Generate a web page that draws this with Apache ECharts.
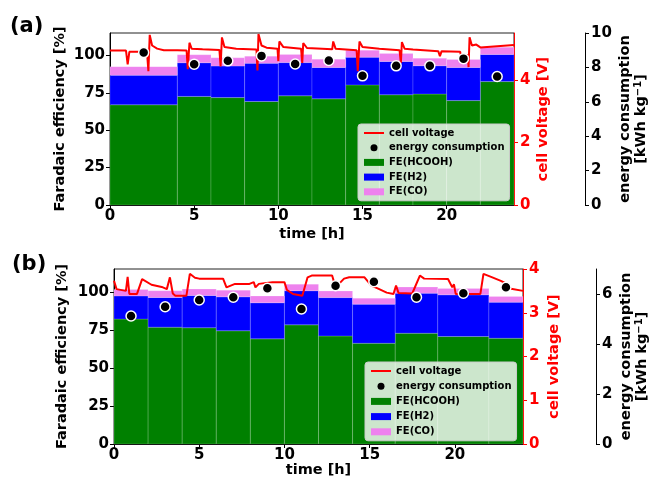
<!DOCTYPE html>
<html>
<head>
<meta charset="utf-8">
<script src="https://cdn.jsdelivr.net/npm/echarts@6/dist/echarts.min.js"></script>
<style>
  html, body { margin: 0; padding: 0; background: #fff; }
  #main { width: 649px; height: 482px; }
</style>
</head>
<body>
<div id="main"></div>
<script>
// ---- panel (a) ----
var edgesA = [0, 4, 6, 8, 10, 12, 14, 16, 18, 20, 22, 24];
var hcoohA = [67.0, 72.6, 71.8, 69.2, 73.0, 71.0, 80.3, 73.7, 74.2, 69.8, 82.5];
var h2A    = [19.7, 22.5, 21.1, 25.5, 22.2, 21.0, 18.5, 22.3, 18.9, 22.2, 18.2];
var coA    = [5.8, 5.3, 5.5, 4.8, 5.5, 5.5, 4.7, 5.3, 5.0, 5.3, 4.8];
var energyTimeA = [2, 5, 7, 9, 11, 13, 15, 17, 19, 21, 23];
var energyA     = [8.86, 8.19, 8.38, 8.67, 8.20, 8.40, 7.51, 8.09, 8.09, 8.51, 7.47];
var voltageA = [
    [0, 4.94], [0.95, 4.94], [1.05, 4.5], [1.15, 4.9], [1.9, 4.9], [2.2, 4.88], [2.28, 4.28], [2.36, 5.44],
    [2.5, 5.1], [2.8, 5.0], [3.2, 4.95], [4.0, 4.95], [4.55, 4.94], [4.62, 4.34], [4.72, 5.19], [4.85, 5.0],
    [5.5, 4.98], [6.5, 4.96], [6.57, 4.43], [6.65, 5.36], [6.8, 5.05], [7.5, 5.0], [8.7, 4.97], [8.76, 4.3],
    [8.82, 5.47], [9.0, 5.1], [9.3, 5.03], [9.95, 5.0], [10.0, 4.6], [10.06, 5.23], [10.3, 5.05], [11.35, 5.0],
    [11.42, 4.54], [11.48, 5.18], [11.7, 5.02], [13.2, 4.98], [13.26, 5.23], [13.4, 5.0], [14.65, 4.95],
    [14.72, 4.28], [14.82, 5.23], [15.0, 5.05], [16.0, 5.0], [17.2, 4.95], [17.28, 4.54], [17.34, 5.21],
    [17.5, 5.0], [18.0, 4.97], [19.5, 4.92], [19.6, 4.76], [19.7, 4.92], [20.8, 4.9], [20.85, 4.76],
    [21.25, 4.8], [21.3, 4.41], [21.36, 5.36], [21.5, 5.1], [21.76, 5.13], [22.0, 5.04], [23.0, 5.08], [24, 5.12]
];

// ---- panel (b) ----
var edgesB = [0, 2, 4, 6, 8, 10, 12, 14, 16.5, 19, 22, 24];
var hcoohB = [82.1, 76.8, 76.4, 74.4, 69.1, 78.3, 71.0, 66.2, 72.8, 70.6, 69.5];
var h2B    = [15.2, 19.5, 21.2, 22.3, 23.7, 22.4, 25.2, 25.7, 26.3, 27.4, 23.7];
var coB    = [4.3, 4.4, 4.2, 4.4, 4.4, 4.3, 4.3, 3.9, 4.0, 4.2, 3.7];
var energyTimeB = [1, 3, 5, 7, 9, 11, 13, 15.25, 17.75, 20.5, 23];
var energyB     = [5.12, 5.49, 5.76, 5.87, 6.23, 5.40, 6.33, 6.49, 5.87, 6.03, 6.27];
var voltageB = [
    [0, 3.73], [0.15, 3.54], [0.7, 3.5], [0.8, 3.82], [0.9, 3.43], [1.35, 3.43], [1.65, 3.77], [2.2, 3.64],
    [2.8, 3.59], [3.1, 3.54], [3.28, 3.81], [3.45, 3.44], [3.6, 3.39], [4.25, 3.39], [4.45, 3.89], [4.75, 3.8],
    [5.0, 3.78], [6.4, 3.78], [6.6, 3.58], [7.1, 3.66], [7.95, 3.66], [8.2, 3.7], [8.3, 3.58], [8.5, 3.66],
    [9.3, 3.7], [10.0, 3.7], [10.15, 3.52], [10.5, 3.43], [11.05, 3.39], [11.36, 3.81], [11.6, 3.85],
    [12.8, 3.85], [13.0, 3.58], [13.5, 3.78], [13.8, 3.81], [14.7, 3.81], [15.1, 3.62], [15.5, 3.55],
    [16.0, 3.46], [16.4, 3.43], [16.55, 3.62], [16.7, 3.45], [17.5, 3.44], [17.95, 3.85], [18.2, 3.78],
    [19.6, 3.77], [19.85, 3.58], [19.95, 3.65], [20.05, 3.43], [21.5, 3.43], [21.68, 3.89], [22.2, 3.81],
    [22.7, 3.73], [23.0, 3.67], [23.3, 3.55], [24, 3.5]
];

var GREEN = '#008000', BLUE = '#0000ff', VIOLET = '#ee82ee', RED = '#ff0000';
var FONT = 'DejaVu Sans';

// stacked blocks: [start, end, bottom, top]
function blocks(edges, base, vals) {
    var out = [];
    for (var i = 0; i < vals.length; i++) {
        out.push([edges[i], edges[i + 1], base[i], base[i] + vals[i]]);
    }
    return out;
}
function addArr(a, b) {
    return a.map(function (v, i) { return v + b[i]; });
}
function zeros(n) {
    var z = [];
    for (var i = 0; i < n; i++) z.push(0);
    return z;
}
function renderBlock(params, api) {
    var p0 = api.coord([api.value(0), api.value(3)]);
    var p1 = api.coord([api.value(1), api.value(2)]);
    return {
        type: 'rect',
        shape: { x: p0[0], y: p0[1], width: p1[0] - p0[0], height: p1[1] - p0[1] },
        style: { fill: api.visual('color'), stroke: 'rgba(255,255,255,0.22)', lineWidth: 0.8 }
    };
}

function panelSeries(gi, edges, hcooh, h2, co, eT, eV, volt) {
    var b0 = zeros(hcooh.length);
    var b1 = addArr(b0, hcooh);
    var b2 = addArr(b1, h2);
    var yi = gi * 3;
    var mk = function (name, color, data) {
        return {
            name: name, type: 'custom', xAxisIndex: gi, yAxisIndex: yi,
            renderItem: renderBlock, itemStyle: { color: color },
            encode: { x: [0, 1], y: [2, 3] }, data: data, z: 1, silent: true
        };
    };
    return [
        mk('FE(HCOOH)', GREEN, blocks(edges, b0, hcooh)),
        mk('FE(H2)', BLUE, blocks(edges, b1, h2)),
        mk('FE(CO)', VIOLET, blocks(edges, b2, co)),
        {
            name: 'cell voltage', type: 'line', xAxisIndex: gi, yAxisIndex: yi + 1,
            data: volt, showSymbol: false, symbol: 'none',
            lineStyle: { color: RED, width: 2 }, itemStyle: { color: RED }, z: 3
        },
        {
            name: 'energy consumption', type: 'scatter', xAxisIndex: gi, yAxisIndex: yi + 2,
            data: eT.map(function (t, i) { return [t, eV[i]]; }),
            symbolSize: 10,
            itemStyle: { color: '#000', borderColor: '#fff', borderWidth: 1.5, opacity: 1 },
            z: 4
        }
    ];
}

var tickLbl = { color: '#000', fontFamily: FONT, fontWeight: 'bold', fontSize: 15 };
var nameStyle = { color: '#000', fontFamily: FONT, fontWeight: 'bold', fontSize: 14.5 };
var blackLine = { show: true, lineStyle: { color: '#000', width: 1 } };
var blackTick = { show: true, length: 4, lineStyle: { color: '#000' } };

function xAx(gi, gap) {
    return {
        type: 'value', gridIndex: gi, min: 0, max: 24, interval: 5,
        name: 'time [h]', nameLocation: 'middle', nameGap: gap, nameTextStyle: nameStyle,
        nameMoveOverlap: false,
        axisLine: blackLine, axisTick: blackTick, splitLine: { show: false },
        axisLabel: Object.assign({ margin: 4, showMaxLabel: false }, tickLbl)
    };
}
function feAx(gi, gap) {
    return {
        type: 'value', gridIndex: gi, min: 0, max: 115, interval: 25, position: 'left',
        name: 'Faradaic efficiency [%]', nameLocation: 'middle', nameGap: gap, nameTextStyle: nameStyle,
        nameMoveOverlap: false,
        axisLine: blackLine, axisTick: blackTick, splitLine: { show: false },
        axisLabel: Object.assign({ margin: 5, showMaxLabel: false }, tickLbl)
    };
}
function vAx(gi, max, interval, gap) {
    return {
        type: 'value', gridIndex: gi, min: 0, max: max, interval: interval, position: 'right',
        name: 'cell voltage [V]', nameLocation: 'middle', nameGap: gap,
        nameMoveOverlap: false,
        nameTextStyle: Object.assign({}, nameStyle, { color: RED }),
        axisLine: { show: true, lineStyle: { color: RED, width: 1 } },
        axisTick: { show: true, length: 4, lineStyle: { color: RED } },
        splitLine: { show: false },
        axisLabel: Object.assign({}, tickLbl, { color: RED, margin: 6, showMaxLabel: max % interval === 0 })
    };
}
function eAx(gi, max, offset, gap) {
    return {
        type: 'value', gridIndex: gi, min: 0, max: max, interval: 2, position: 'right', offset: offset,
        name: 'energy consumption\n[kWh kg{s|\u22121}]', nameLocation: 'middle', nameGap: gap,
        nameMoveOverlap: false,
        nameTextStyle: Object.assign({}, nameStyle, {
            lineHeight: 16,
            rich: { s: { fontFamily: FONT, fontWeight: 'bold', fontSize: 10, verticalAlign: 'top', lineHeight: 16 } }
        }),
        axisLine: blackLine, axisTick: blackTick, splitLine: { show: false },
        axisLabel: Object.assign({ margin: 6, showMaxLabel: max % 2 === 0 }, tickLbl)
    };
}

function legendAt(left, top, gap) {
    return {
        left: left, top: top, orient: 'vertical',
        itemWidth: 20, itemHeight: 7, itemGap: gap,
        padding: [3, 5, 3, 5],
        backgroundColor: 'rgba(255,255,255,0.8)', borderColor: '#cccccc', borderWidth: 1, borderRadius: 3,
        textStyle: { fontFamily: FONT, fontWeight: 'bold', fontSize: 10, color: '#000', lineHeight: 12 },
        selectedMode: false,
        data: [
            { name: 'cell voltage', itemStyle: { color: 'rgba(0,0,0,0)', borderColor: 'rgba(0,0,0,0)', borderWidth: 0 } },
            { name: 'energy consumption', icon: 'circle', itemStyle: { borderWidth: 0 } },
            { name: 'FE(HCOOH)', icon: 'rect' },
            { name: 'FE(H2)', icon: 'rect' },
            { name: 'FE(CO)', icon: 'rect' }
        ]
    };
}

var gridBase = { show: true, borderColor: '#222', borderWidth: 1, backgroundColor: 'transparent', outerBoundsMode: 'none', containLabel: false };

var chart = echarts.init(document.getElementById('main'));
chart.setOption({
    animation: false,
    backgroundColor: '#fff',
    textStyle: { fontFamily: FONT },
    grid: [
        Object.assign({ left: 110, top: 33, width: 404, height: 172 }, gridBase),
        Object.assign({ left: 114, top: 269, width: 409, height: 175 }, gridBase)
    ],
    xAxis: [xAx(0, 22), xAx(1, 19)],
    yAxis: [
        feAx(0, 42), vAx(0, 5.5, 2, 22), eAx(0, 10, 71, 32),
        feAx(1, 44), vAx(1, 4, 1, 24), eAx(1, 7, 73, 22)
    ],
    legend: [legendAt(358, 124, 2.7), legendAt(365, 362, 3.2)],
    graphic: [
        { type: 'text', left: 10, top: 16, style: { text: '(a)', font: 'bold 21px "DejaVu Sans"', fill: '#000' } },
        { type: 'text', left: 12, top: 254, style: { text: '(b)', font: 'bold 21px "DejaVu Sans"', fill: '#000' } }
    ],
    series: []
        .concat(panelSeries(0, edgesA, hcoohA, h2A, coA, energyTimeA, energyA, voltageA))
        .concat(panelSeries(1, edgesB, hcoohB, h2B, coB, energyTimeB, energyB, voltageB))
});
</script>
</body>
</html>
